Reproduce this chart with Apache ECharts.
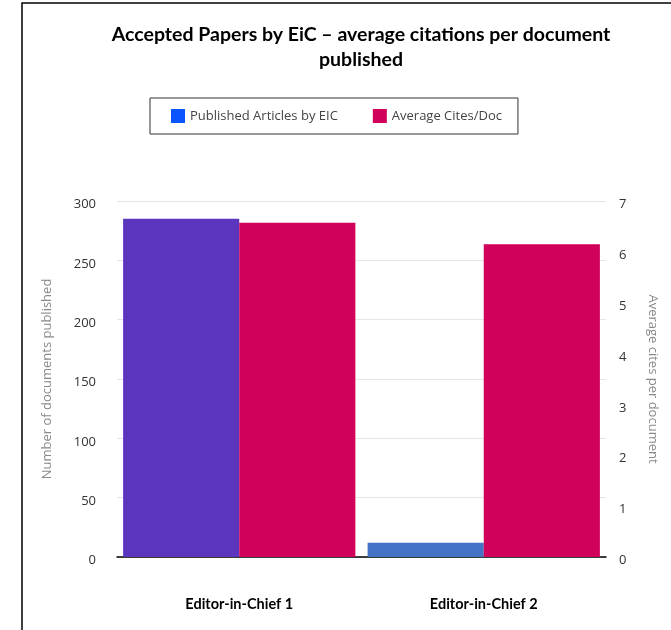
<!DOCTYPE html>
<html>
<head>
<meta charset="utf-8">
<script src="https://cdn.jsdelivr.net/npm/echarts@6/dist/echarts.min.js"></script>
<style>
html,body{margin:0;padding:0;background:#fff;}
#c{width:671px;height:630px;}
</style>
</head>
<body>
<div id="c"></div>
<script>
const categories = ['Editor-in-Chief 1', 'Editor-in-Chief 2'];
const publishedArticles = [285, 12];
const averageCites = [6.57, 6.15];
const leftTicks = [0, 50, 100, 150, 200, 250, 300];
const rightTicks = [0, 1, 2, 3, 4, 5, 6, 7];

const publishedColors = ['#5c35bf', '#4472c4'];

const chart = echarts.init(document.getElementById('c'), null, {renderer: 'canvas'});
chart.setOption({
  backgroundColor: '#fff',
  animation: false,
  graphic: [{
    type: 'rect',
    shape: {x: 22, y: 3, width: 800, height: 800},
    style: {fill: 'none', stroke: '#000', lineWidth: 1.5},
    silent: true, z: 100
  }],
  title: {
    text: 'Accepted Papers by EiC \u2013 average citations per document\npublished',
    left: 356,
    top: 17,
    textAlign: 'center',
    textStyle: {fontFamily: 'Lato', fontWeight: 'bold', fontSize: 19.5, lineHeight: 25, color: '#000', align: 'center'}
  },
  legend: {
    left: 150, top: 98,
    padding: [11, 16, 11, 21],
    borderColor: '#333', borderWidth: 1,
    itemWidth: 14, itemHeight: 14, itemGap: 35,
    icon: 'rect',
    textStyle: {fontFamily: 'Open Sans', fontSize: 13, color: '#444'},
    data: ['Published Articles by EIC', 'Average Cites/Doc']
  },
  grid: {left: 117, right: 65, top: 201, bottom: 73, containLabel: false},
  xAxis: {
    type: 'category',
    data: categories,
    axisLine: {show: true, lineStyle: {color: '#000', width: 1.5}},
    axisTick: {show: false},
    axisLabel: {margin: 40, fontFamily: 'Lato', fontWeight: 'bold', fontSize: 14.5, color: '#000'}
  },
  yAxis: [{
    type: 'value', min: 0, max: 300, interval: 50,
    position: 'left',
    name: 'Number of documents published',
    nameLocation: 'middle', nameGap: 63, nameRotate: 90,
    nameTextStyle: {fontFamily: 'Open Sans', fontSize: 13, color: '#888'},
    axisLine: {show: false}, axisTick: {show: false},
    axisLabel: {margin: 21, fontFamily: 'Open Sans', fontSize: 13, color: '#333', verticalAlign: 'top', lineHeight: 7},
    splitLine: {lineStyle: {color: '#e6e6e6', width: 1}}
  }, {
    type: 'value', min: 0, max: 7, interval: 1,
    position: 'right',
    name: 'Average cites per document',
    nameLocation: 'middle', nameGap: 40, nameRotate: -90,
    nameTextStyle: {fontFamily: 'Open Sans', fontSize: 13, color: '#888'},
    axisLine: {show: false}, axisTick: {show: false},
    axisLabel: {margin: 13, fontFamily: 'Open Sans', fontSize: 13, color: '#333', verticalAlign: 'top', lineHeight: 7},
    splitLine: {show: false}
  }],
  series: [{
    name: 'Published Articles by EIC',
    type: 'bar',
    yAxisIndex: 0,
    barGap: '0%',
    barCategoryGap: '5%',
    itemStyle: {color: '#0a55ff'},
    data: publishedArticles.map((v, i) => ({value: v, itemStyle: {color: publishedColors[i]}}))
  }, {
    name: 'Average Cites/Doc',
    type: 'bar',
    yAxisIndex: 1,
    barGap: '0%',
    barCategoryGap: '5%',
    itemStyle: {color: '#d1005a'},
    data: averageCites
  }]
});
</script>
</body>
</html>
